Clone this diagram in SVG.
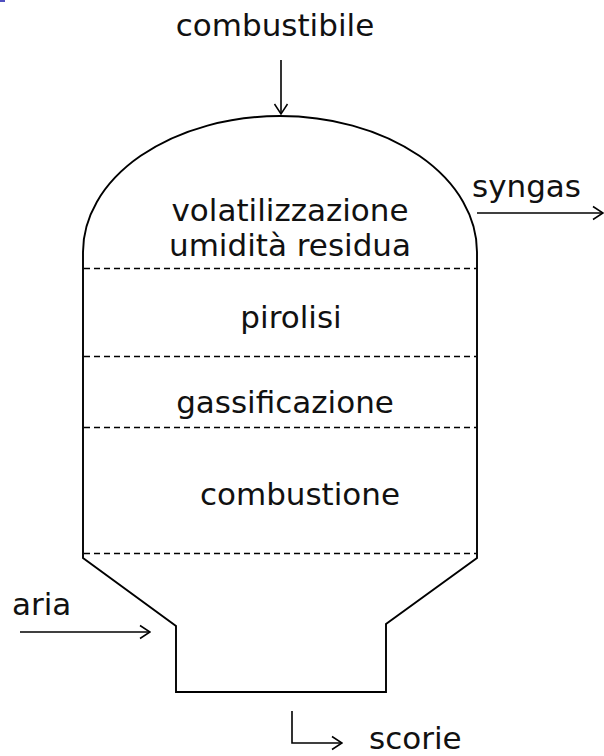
<svg xmlns="http://www.w3.org/2000/svg" width="604" height="756" viewBox="0 0 604 756">
  <defs>
    <style>
      .t { font-family: "DejaVu Sans", Verdana, sans-serif; font-size: 31px; fill: #111; }
      .wall { fill: none; stroke: #000; stroke-width: 1.9; stroke-linejoin: miter; }
      .zone { stroke: #000; stroke-width: 1.5; stroke-dasharray: 6 4; }
      .flow { fill: none; stroke: #000; stroke-width: 1.6; }
    </style>
    <marker id="open" viewBox="0 0 12 16" refX="11" refY="8" markerWidth="12" markerHeight="16" markerUnits="userSpaceOnUse" orient="auto">
      <path d="M1,1.5 L11,8 L1,14.5" fill="none" stroke="#000" stroke-width="1.5"/>
    </marker>
  </defs>

  <rect x="0" y="0" width="5" height="2" fill="#5050c0"/>

  <!-- reactor shell -->
  <g id="reactor">
    <path class="wall" d="M83,252 A197,136 0 0 1 477,252 L477,558 L386,624 L386,692 L176,692 L176,626 L83,558 Z"/>
  </g>

  <!-- zone boundaries -->
  <g id="zones">
    <line class="zone" x1="84" y1="268.5" x2="476" y2="268.5"/>
    <line class="zone" x1="84" y1="356.5" x2="476" y2="356.5"/>
    <line class="zone" x1="84" y1="427.5" x2="476" y2="427.5"/>
    <line class="zone" x1="84" y1="553.5" x2="476" y2="553.5"/>
  </g>

  <g id="zone-labels">
    <text class="t" x="290" y="221" text-anchor="middle">volatilizzazione</text>
    <text class="t" x="290" y="256" text-anchor="middle">umidità residua</text>
    <text class="t" x="291" y="328" text-anchor="middle">pirolisi</text>
    <text class="t" x="285" y="413" text-anchor="middle">gassificazione</text>
    <text class="t" x="300" y="505" text-anchor="middle">combustione</text>
  </g>

  <!-- streams -->
  <g id="connectors">
    <line class="flow" x1="281" y1="60" x2="281" y2="114" marker-end="url(#open)"/>
    <line class="flow" x1="477" y1="213" x2="603" y2="213" marker-end="url(#open)"/>
    <line class="flow" x1="20" y1="632" x2="150" y2="632" marker-end="url(#open)"/>
    <polyline class="flow" points="292,711 292,743 342,743" marker-end="url(#open)"/>
  </g>

  <g id="stream-labels">
    <text class="t" x="275" y="36" text-anchor="middle">combustibile</text>
    <text class="t" x="472" y="197">syngas</text>
    <text class="t" x="12" y="615">aria</text>
    <text class="t" x="369" y="749">scorie</text>
  </g>
</svg>
